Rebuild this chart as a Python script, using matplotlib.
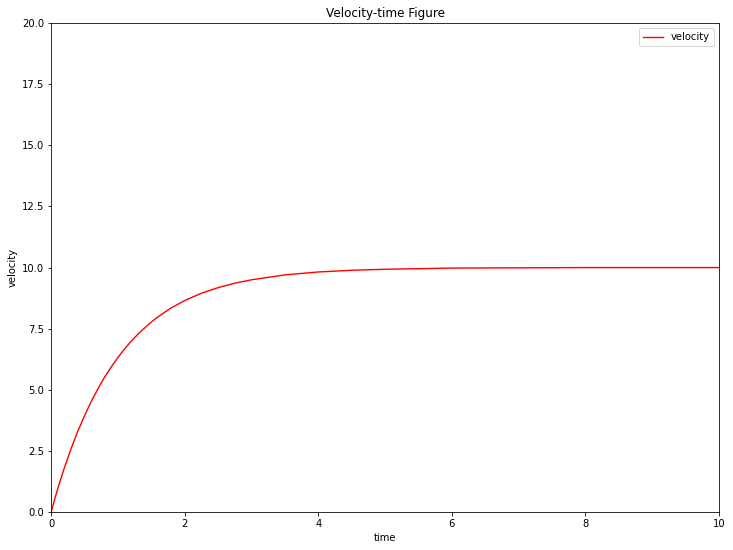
import matplotlib
matplotlib.use("Agg")
import matplotlib.pyplot as plt

# values
time = [0.0, 0.1, 0.2, 0.3, 0.4, 0.5, 0.6, 0.7, 0.8, 0.9, 1.0,
        1.1, 1.2, 1.3, 1.4, 1.5, 1.6, 1.7, 1.8, 1.9, 2.0,
        2.25, 2.5, 2.75, 3.0, 3.5, 4.0, 4.5, 5.0, 6.0, 7.0, 8.0, 9.0, 10.0]
velocity = [0.0, 0.95, 1.81, 2.59, 3.30, 3.93, 4.51, 5.03, 5.51, 5.93, 6.32,
            6.67, 6.99, 7.27, 7.53, 7.77, 7.98, 8.17, 8.35, 8.50, 8.65,
            8.95, 9.18, 9.36, 9.50, 9.70, 9.82, 9.89, 9.93, 9.98, 9.99, 10.0, 10.0, 10.0]

# 72 dpi so that 10 pt text is 10 px, like the reference
fig = plt.figure(figsize=(733 / 72, 550 / 72), dpi=72)
ax = fig.add_axes([0.0696, 0.069, 0.9114, 0.889])
ax.plot(time, velocity, color="red", lw=1.4, label="velocity")
ax.set_xlim(0, 10)
ax.set_ylim(0, 20)
ax.set_yticks([0, 2.5, 5, 7.5, 10, 12.5, 15, 17.5, 20])
ax.set_xlabel("time")
ax.set_ylabel("velocity")
ax.set_title("Velocity-time Figure")
ax.legend(loc="upper right")
fig.savefig("out.png", dpi=72)
